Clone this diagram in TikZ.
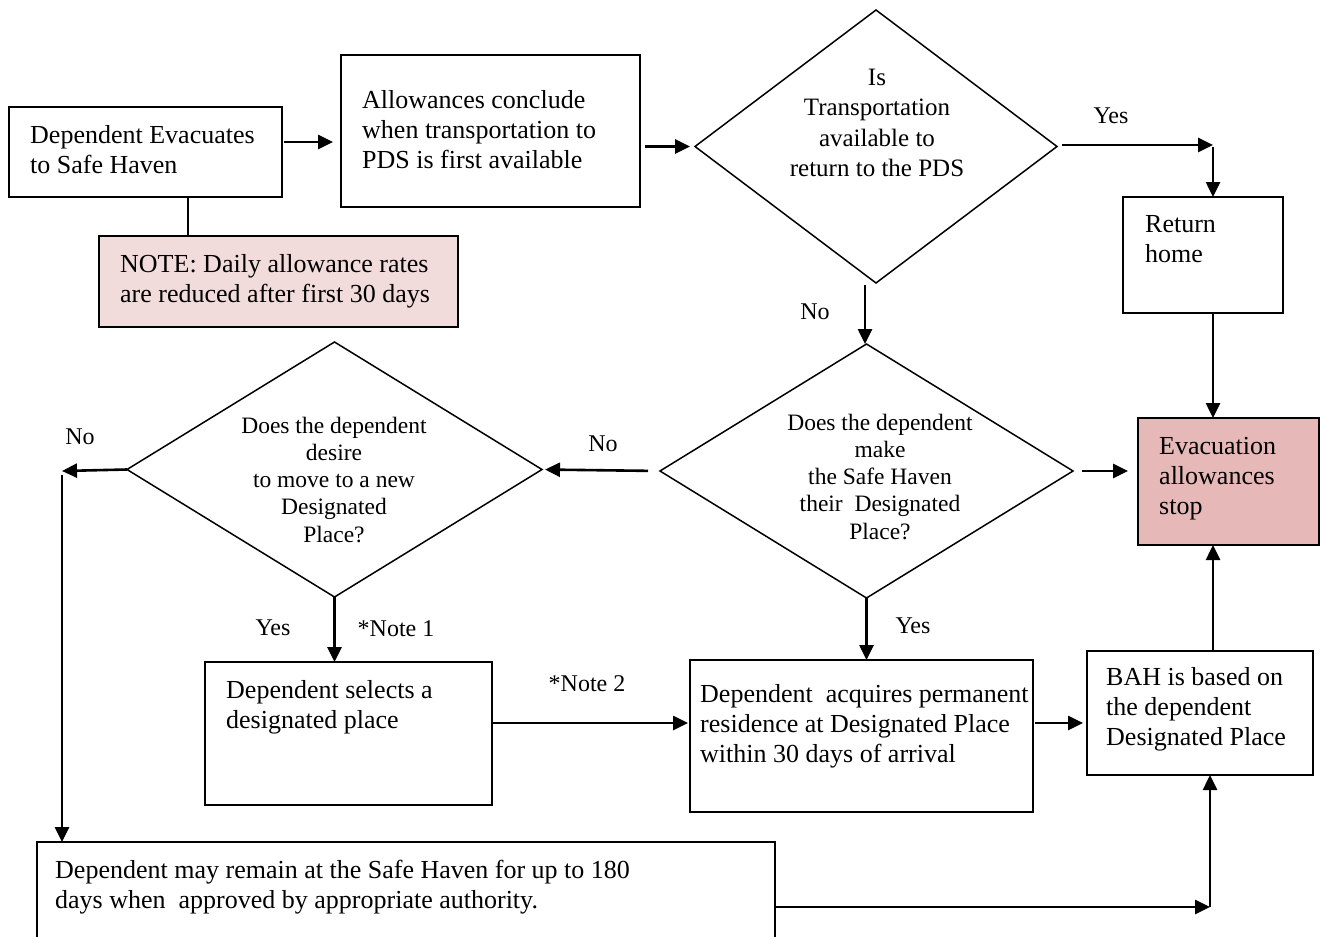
\documentclass[tikz,border=0pt]{standalone}
\usepackage{fontspec}
\setmainfont{Liberation Serif}
\usetikzlibrary{shapes.geometric,arrows.meta}
\definecolor{notepink}{HTML}{F2DCDB}
\definecolor{stoppink}{HTML}{E6B8B7}
\begin{document}
\begin{tikzpicture}[x=1pt,y=-1pt,
  box/.style={draw, rectangle, line width=1.8pt, inner sep=0pt, outer sep=0pt},
  dia/.style={draw, diamond, line width=1.5pt, inner sep=0pt, outer sep=0pt},
  arr/.style={line width=2.6pt, -{Triangle[length=15pt,width=14pt]}},
  link/.style={line width=1.8pt},
  tightspace/.style={execute at begin node={\spaceskip=0.25em\relax\xspaceskip=0.3em\relax}},
  txt/.style={anchor=base west, inner sep=0pt, align=left, tightspace, font=\fontsize{26}{30}\selectfont},
  dtxt/.style={anchor=base, inner sep=0pt, align=center, tightspace, text width=340pt, font=\fontsize{23.5}{27.3}\selectfont},
  dtxtbig/.style={anchor=base, inner sep=0pt, align=center, tightspace, text width=300pt, font=\fontsize{25}{30.5}\selectfont},
  lbl/.style={inner sep=0pt, font=\fontsize{24}{28}\selectfont}]
\clip (0,0) rectangle (1320,937);
\fill[white] (0,0) rectangle (1320,937);

% shapes
\node[box, minimum width=273pt, minimum height=90pt] (A) at (145.5,152) {};
\node[box, fill=notepink, minimum width=359pt, minimum height=91pt] (N) at (278.5,281.5) {};
\node[box, minimum width=299pt, minimum height=152pt] (B) at (490.5,131) {};
\node[dia, minimum width=362pt, minimum height=273pt] (D1) at (876,146.5) {};
\node[box, minimum width=160pt, minimum height=116pt] (R) at (1203,255) {};
\node[box, fill=stoppink, minimum width=181pt, minimum height=127pt] (E) at (1228.5,481.5) {};
\node[dia, minimum width=413pt, minimum height=254pt] (D2) at (866.5,471) {};
\node[dia, minimum width=415pt, minimum height=255pt] (D3) at (334.5,469.5) {};
\node[box, minimum width=287pt, minimum height=143pt] (C) at (348.5,733.5) {};
\node[box, minimum width=343pt, minimum height=152pt] (DB) at (861.5,736) {};
\node[box, minimum width=226pt, minimum height=124pt] (H) at (1200,713) {};
\node[box, minimum width=738pt, minimum height=103pt] (M) at (406,893.5) {};

% texts
\node[txt, text width=250pt] (At) at (30,143) {Dependent Evacuates\\to Safe Haven};
\node[txt, text width=275pt] (Bt) at (362,108) {Allowances conclude\\when transportation to\\PDS is first available};
\node[txt, text width=335pt] (Nt) at (120,272) {NOTE: Daily allowance rates\\are reduced after first 30 days};
\node[dtxtbig] (D1t) at (877,85) {Is\\Transportation\\available to\\return to the PDS};
\node[txt, text width=130pt] (Rt) at (1145,232) {Return\\home};
\node[txt, text width=155pt] (Et) at (1159,454) {Evacuation\\allowances\\stop};
\node[dtxt] (D2t) at (880,430) {Does the dependent\\make\\the Safe Haven\\their~ Designated\\Place?};
\node[dtxt] (D3t) at (334,433) {Does the dependent\\desire\\to move to a new\\Designated\\Place?};
\node[txt, text width=260pt] (Ct) at (226,698) {Dependent selects a\\designated place};
\node[txt, text width=345pt] (Dt) at (700,702) {Dependent~ acquires permanent\\residence at Designated Place\\within 30 days of arrival};
\node[txt, text width=205pt] (Ht) at (1106,685) {BAH is based on\\the dependent\\Designated Place};
\node[txt, text width=620pt] (Mt) at (55,878) {Dependent may remain at the Safe Haven for up to 180\\days when~ approved by appropriate authority.};

% labels
\node[lbl] (yes1) at (1111,116) {Yes};
\node[lbl] (no1) at (815,312) {No};
\node[lbl] (no2) at (603,444) {No};
\node[lbl] (no3) at (80,437) {No};
\node[lbl] (yes2) at (273,628) {Yes};
\node[lbl] (note1) at (396,629) {*Note 1};
\node[lbl] (note2) at (587,684) {*Note 2};
\node[lbl] (yes3) at (913,626) {Yes};

% helper coordinates
\coordinate (y142) at (0,142);
\coordinate (x188) at (188,0);
\coordinate (k1) at (1213,145);
\coordinate (k2) at (62,471);
\coordinate (k3) at (1210,907);
\coordinate (y723) at (0,723);
\coordinate (x865) at (865,0);

% connectors
\draw[arr, shorten <=2pt, shorten >=8pt] (A.east |- y142) -- (B.west |- y142);
\draw[link] (x188 |- A.south) -- (x188 |- N.north);
\draw[arr, shorten <=5pt, shorten >=5pt] (B.east |- D1.west) -- (D1.west);
\draw[arr, shorten <=5pt] (D1.east |- k1) -- (k1);
\draw[arr, shorten <=2pt] (k1) -- (k1 |- R.north);
\draw[arr] (k1 |- R.south) -- (k1 |- E.north);
\draw[arr, shorten <=2pt] (x865 |- D1.south) -- (x865 |- D2.north);
\draw[arr, shorten <=12pt, shorten >=3pt] (D2.west) -- (D3.east);
\draw[arr, shorten <=9pt, shorten >=10pt] (D2.east) -- (E.west |- D2.east);
\draw[arr] (D3.west) -- (k2);
\draw[arr, shorten <=4pt] (k2) -- (k2 |- M.north);
\draw[arr] (D3.south) -- (D3.south |- C.north);
\draw[arr, shorten >=2pt] (C.east |- y723) -- (DB.west |- y723);
\draw[arr] (D2.south) -- (D2.south |- DB.north);
\draw[arr, shorten <=2pt, shorten >=4pt] (DB.east |- y723) -- (H.west |- y723);
\draw[arr] (k1 |- H.north) -- (k1 |- E.south);
\draw[arr] (M.east |- k3) -- (k3);
\draw[arr] (k3) -- (k3 |- H.south);
\end{tikzpicture}
\end{document}
